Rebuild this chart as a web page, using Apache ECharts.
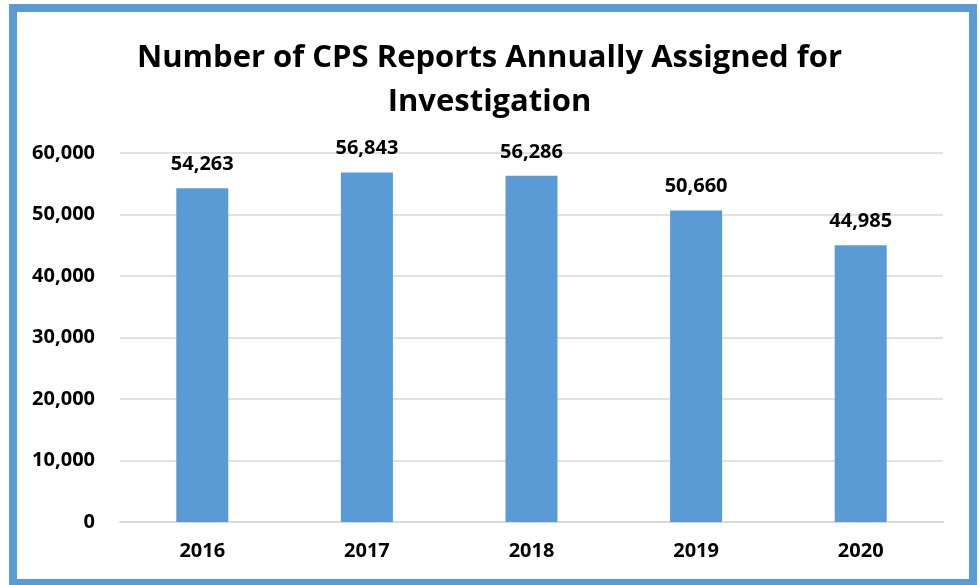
<!DOCTYPE html>
<html>
<head>
<meta charset="utf-8">
<script src="https://cdn.jsdelivr.net/npm/echarts@6/dist/echarts.min.js"></script>
<style>
  html, body { margin: 0; padding: 0; background: #fff; }
  #chart { width: 979px; height: 585px; }
</style>
</head>
<body>
<div id="chart"></div>
<script>
// 数据
const years = ['2016', '2017', '2018', '2019', '2020'];
const reports = [54263, 56843, 56286, 50660, 44985];

const font = 'Open Sans';
const chart = echarts.init(document.getElementById('chart'));

const option = {
  backgroundColor: '#fff',
  animation: false,
  title: {
    text: 'Number of CPS Reports Annually Assigned for\nInvestigation',
    left: 'center',
    top: 31,
    textStyle: {
      fontFamily: font,
      fontSize: 31,
      fontWeight: 'bold',
      color: '#000',
      lineHeight: 44
    }
  },
  graphic: [
    {
      type: 'rect',
      shape: { x: 13, y: 8, width: 960, height: 575 },
      style: { fill: 'none', stroke: '#5B9BD5', lineWidth: 8 },
      silent: true
    }
  ],
  grid: {
    left: 120,
    right: 36,
    top: 153,
    bottom: 63
  },
  xAxis: {
    type: 'category',
    data: years,
    axisLine: { lineStyle: { color: '#d9d9d9', width: 2 } },
    axisTick: { show: false },
    axisLabel: {
      fontFamily: font,
      fontSize: 20,
      fontWeight: 'bold',
      color: '#000',
      margin: 19
    }
  },
  yAxis: {
    type: 'value',
    min: 0,
    max: 60000,
    interval: 10000,
    axisLine: { show: false },
    axisTick: { show: false },
    splitLine: { lineStyle: { color: '#d9d9d9', width: 1.5 } },
    axisLabel: {
      fontFamily: font,
      fontSize: 20,
      fontWeight: 'bold',
      color: '#000',
      margin: 25,
      formatter: (v) => v.toLocaleString('en-US')
    }
  },
  series: [
    {
      type: 'bar',
      data: reports,
      barWidth: '31.6%',
      itemStyle: { color: '#5B9BD5' },
      label: {
        show: true,
        position: 'top',
        distance: 14,
        fontFamily: font,
        fontSize: 20,
        fontWeight: 'bold',
        color: '#000',
        formatter: (p) => p.value.toLocaleString('en-US')
      }
    }
  ]
};

chart.setOption(option);
</script>
</body>
</html>
